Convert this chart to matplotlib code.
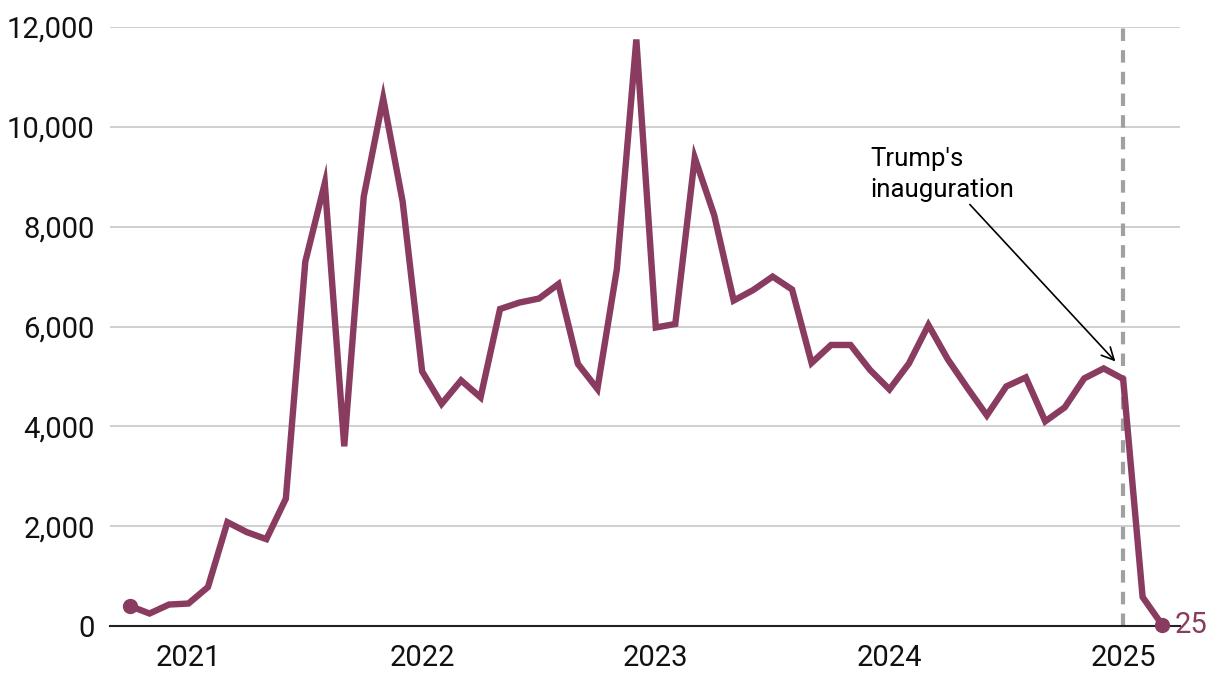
import numpy as np
import matplotlib.pyplot as plt

plt.rcParams['font.family'] = ['Roboto', 'DejaVu Sans']

# monthly values, Oct 2020 .. Mar 2025
months = ['2020-10', '2020-11', '2020-12',
          '2021-01', '2021-02', '2021-03', '2021-04', '2021-05', '2021-06',
          '2021-07', '2021-08', '2021-09', '2021-10', '2021-11', '2021-12',
          '2022-01', '2022-02', '2022-03', '2022-04', '2022-05', '2022-06',
          '2022-07', '2022-08', '2022-09', '2022-10', '2022-11', '2022-12',
          '2023-01', '2023-02', '2023-03', '2023-04', '2023-05', '2023-06',
          '2023-07', '2023-08', '2023-09', '2023-10', '2023-11', '2023-12',
          '2024-01', '2024-02', '2024-03', '2024-04', '2024-05', '2024-06',
          '2024-07', '2024-08', '2024-09', '2024-10', '2024-11', '2024-12',
          '2025-01', '2025-02', '2025-03']
values = [400, 250, 430,
          450, 780, 2080, 1880, 1740, 2550,
          7300, 8870, 3600, 8600, 10570, 8500,
          5100, 4450, 4920, 4580, 6350, 6480,
          6560, 6850, 5250, 4750, 7150, 11750,
          5980, 6050, 9380, 8230, 6520, 6730,
          7000, 6740, 5270, 5630, 5630, 5130,
          4740, 5260, 6030, 5340, 4770, 4220,
          4800, 4980, 4100, 4380, 4960, 5160,
          4950, 580, 25]
year_labels = ['2021', '2022', '2023', '2024', '2025']
yticks = [0, 2000, 4000, 6000, 8000, 10000, 12000]

color = '#8a3b60'
x = np.arange(len(months))

fig = plt.figure(figsize=(12.2, 6.82), dpi=100)
ax = fig.add_axes([110/1220, 56/682, 1070/1220, 599/682])

ax.plot(x, values, color=color, lw=4.6, solid_joinstyle='miter', zorder=3)
ax.plot([x[0], x[-1]], [values[0], values[-1]], 'o', color=color, ms=10, zorder=4,
        clip_on=False)
ax.text(x[-1] + 0.65, values[-1], str(values[-1]), color=color, fontsize=21,
        va='center', ha='left')

inaug = months.index('2025-01')
ax.axvline(inaug, color='#a0a0a0', lw=3, ls=(0, (3, 2.2)), zorder=2)
ax.annotate("Trump's\ninauguration", xy=(inaug - 0.4, 5300), xytext=(38.0, 8500),
            fontsize=18.5, ha='left', va='bottom', linespacing=1.35,
            arrowprops=dict(arrowstyle='->', color='black', lw=1.2,
                            shrinkA=0, shrinkB=0, mutation_scale=22),
            zorder=5)

ax.set_xlim(-1.03, 53.92)
ax.set_ylim(0, 12000)
ax.set_yticks(yticks)
ax.set_yticklabels(['{:,}'.format(v) for v in yticks])
ax.set_xticks([months.index(y + '-01') for y in year_labels])
ax.set_xticklabels(year_labels)
ax.grid(axis='y', color='#cccccc', lw=1.3, zorder=1)
ax.tick_params(axis='both', length=0, labelsize=21, colors='#111111')
ax.tick_params(axis='x', pad=13)
ax.tick_params(axis='y', pad=11)
for s in ['top', 'right', 'left']:
    ax.spines[s].set_visible(False)
ax.spines['bottom'].set_color('#222222')
ax.spines['bottom'].set_linewidth(1.5)
ax.spines['bottom'].set_zorder(2.5)

plt.savefig('out.png', dpi=100)
